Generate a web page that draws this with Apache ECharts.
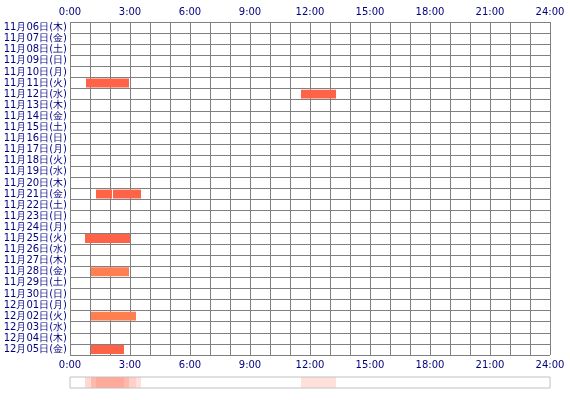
<!DOCTYPE html><html><head><meta charset="utf-8"><script src="https://cdn.jsdelivr.net/npm/echarts@6/dist/echarts.min.js"></script></head><body style="margin:0;background:#fff"><div id="c" style="width:570px;height:400px"></div><script>
const days=["11月06日(木)","11月07日(金)","11月08日(土)","11月09日(日)","11月10日(月)","11月11日(火)","11月12日(水)","11月13日(木)","11月14日(金)","11月15日(土)","11月16日(日)","11月17日(月)","11月18日(火)","11月19日(水)","11月20日(木)","11月21日(金)","11月22日(土)","11月23日(日)","11月24日(月)","11月25日(火)","11月26日(水)","11月27日(木)","11月28日(金)","11月29日(土)","11月30日(日)","12月01日(月)","12月02日(火)","12月03日(水)","12月04日(木)","12月05日(金)"];
// [dayIndex, startHour, endHour, color]
const sessions=[[5,0.8,2.95,"#ff6347"],[6,11.55,13.3,"#ff6347"],[15,1.3,2.1,"#ff6347"],[15,2.15,3.55,"#ff6347"],[19,0.75,3.0,"#ff6347"],[22,1.05,2.95,"#ff7f50"],[26,1.05,3.3,"#ff7f50"],[29,1.05,2.7,"#ff6347"]];
// [startHour, endHour, opacity]
const strip=[[0.75,1.05,0.25],[1.05,1.3,0.45],[1.3,2.7,0.55],[2.7,2.95,0.45],[2.95,3.3,0.3],[3.3,3.55,0.2],[11.55,13.3,0.2]];
const tickLabels=["0:00","3:00","6:00","9:00","12:00","15:00","18:00","21:00","24:00"];
const lab={color:"#000080",fontSize:10,fontFamily:"DejaVu Sans"};
const xBase={type:"value",min:0,max:24,interval:1,axisTick:{show:false},axisLine:{show:false},
 axisLabel:Object.assign({},lab,{formatter:v=>v%3===0?tickLabels[v/3]:"",margin:5,showMinLabel:true,showMaxLabel:true})};
const chart=echarts.init(document.getElementById("c"));
chart.setOption({animation:false,
grid:[{left:70,right:20,top:22,height:333},{left:70,right:20,top:377,height:11}],
xAxis:[Object.assign({},xBase,{gridIndex:0,position:"top",splitLine:{show:true,lineStyle:{color:"#808080",width:1}}}),
 Object.assign({},xBase,{gridIndex:0,position:"bottom",splitLine:{show:false}}),
 {gridIndex:1,type:"value",min:0,max:24,show:false}],
yAxis:[{gridIndex:0,type:"category",data:days,inverse:true,axisTick:{show:false},axisLine:{show:false},
 axisLabel:Object.assign({},lab,{margin:3,interval:0}),splitLine:{show:true,interval:0,lineStyle:{color:"#808080"}}},
 {gridIndex:1,type:"value",min:0,max:1,show:false}],
series:[
{type:"custom",xAxisIndex:0,yAxisIndex:0,data:sessions.map(s=>[s[0],s[1],s[2],s[3]]),encode:{x:[1,2],y:0},
 renderItem:(p,api)=>{const a=api.coord([api.value(1),api.value(0)]),b=api.coord([api.value(2),api.value(0)]);const h=api.size([0,1])[1]*0.8;
 return {type:"rect",shape:{x:a[0],y:a[1]-h/2,width:b[0]-a[0],height:h},style:{fill:sessions[p.dataIndex][3]}};}},
{type:"custom",xAxisIndex:2,yAxisIndex:1,data:strip,encode:{x:[0,1]},
 renderItem:(p,api)=>{const a=api.coord([api.value(0),1]),b=api.coord([api.value(1),0]);
 return {type:"rect",shape:{x:a[0],y:a[1],width:b[0]-a[0],height:b[1]-a[1]},style:{fill:"rgba(255,99,71,"+api.value(2)+")"}};}},
{type:"custom",xAxisIndex:2,yAxisIndex:1,data:[[0]],
 renderItem:(p,api)=>{const a=api.coord([0,1]),b=api.coord([24,0]);return {type:"rect",shape:{x:a[0],y:a[1],width:b[0]-a[0],height:b[1]-a[1]},style:{fill:"none",stroke:"#c0c0c0",lineWidth:1}};}}
]});
</script></body></html>
